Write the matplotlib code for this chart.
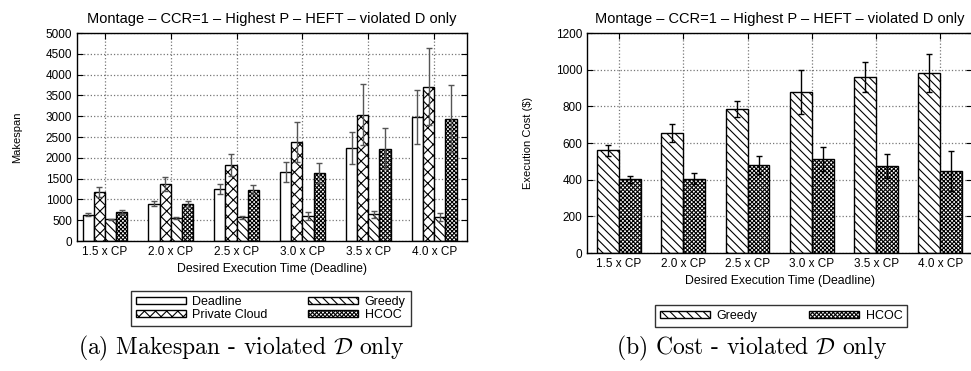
import matplotlib
matplotlib.use("Agg")
import matplotlib.pyplot as plt
import numpy as np

plt.rcParams['font.family'] = ['Liberation Sans', 'DejaVu Sans']
plt.rcParams['hatch.linewidth'] = 0.8
plt.rcParams['mathtext.fontset'] = 'cm'

# dados
deadlines = ["1.5 x CP", "2.0 x CP", "2.5 x CP", "3.0 x CP", "3.5 x CP", "4.0 x CP"]

ms_deadline = [630, 890, 1240, 1650, 2230, 2980]
ms_deadline_err = [40, 60, 120, 240, 390, 650]
ms_private = [1180, 1370, 1820, 2380, 3040, 3710]
ms_private_err = [130, 160, 260, 490, 730, 930]
ms_greedy = [520, 550, 570, 600, 640, 580]
ms_greedy_err = [15, 20, 30, 90, 90, 90]
ms_hcoc = [700, 890, 1230, 1640, 2220, 2940]
ms_hcoc_err = [40, 70, 110, 240, 490, 800]

cost_greedy = [560, 655, 785, 878, 958, 982]
cost_greedy_err = [30, 50, 45, 120, 82, 105]
cost_hcoc = [402, 405, 480, 512, 474, 448]
cost_hcoc_err = [20, 30, 50, 65, 65, 110]

title = "Montage – CCR=1 – Highest P – HEFT – violated D only"

fig = plt.figure(figsize=(9.71, 3.71), dpi=100)
ax1 = fig.add_axes([0.0793, 0.3504, 0.4017, 0.5606])
ax2 = fig.add_axes([0.6045, 0.318, 0.397, 0.593])

x = np.arange(len(deadlines))


def style_axes(ax):
    ax.set_axisbelow(True)
    ax.grid(True, linestyle=':', color='#777777', linewidth=0.9)
    ax.tick_params(direction='in', top=True, right=True, labelsize=8.5, length=4)
    for s in ax.spines.values():
        s.set_linewidth(1.0)
    ax.set_xticks(x)
    ax.set_xticklabels(deadlines)
    ax.set_title(title, fontsize=10.5, pad=7)
    ax.set_xlabel("Desired Execution Time (Deadline)", fontsize=8.8, labelpad=4)


# GRÁFICO (a) makespan
w = 0.17
ekw = dict(ecolor='#555555', elinewidth=1.0, capsize=2, capthick=1.0)
series1 = [
    (ms_deadline, ms_deadline_err, '', 'Deadline'),
    (ms_private, ms_private_err, 'xxx', 'Private Cloud'),
    (ms_greedy, ms_greedy_err, '\\\\\\\\', 'Greedy'),
    (ms_hcoc, ms_hcoc_err, 'xxxxxxxx', 'HCOC'),
]
bars1 = []
for i, (vals, errs, hatch, label) in enumerate(series1):
    b = ax1.bar(x + (i - 1.5) * w, vals, w, yerr=errs, color='white', edgecolor='black',
                linewidth=1.0, hatch=hatch, label=label, error_kw=ekw)
    bars1.append(b)
style_axes(ax1)
ax1.set_xlim(-0.425, 5.5)
ax1.set_ylim(0, 5000)
ax1.set_yticks(range(0, 5001, 500))
ax1.set_ylabel("Makespan", fontsize=8, labelpad=17)
handles = [bars1[0], bars1[1], bars1[2], bars1[3]]
fig.legend(handles, [h.get_label() for h in handles], ncol=2, loc='center',
           bbox_to_anchor=(0.2787, 0.1685), fontsize=9, frameon=True, fancybox=False,
           edgecolor='black', handlelength=4, handleheight=0.5, labelspacing=0.05,
           columnspacing=3.3, borderpad=0.4, handletextpad=0.5).get_frame().set_linewidth(1.0)

# GRÁFICO (b) custo
w2 = 0.34
ekw2 = dict(ecolor='black', elinewidth=1.0, capsize=2, capthick=1.0)
b1 = ax2.bar(x - w2 / 2, cost_greedy, w2, yerr=cost_greedy_err, color='white', edgecolor='black',
             linewidth=1.0, hatch='\\\\\\\\', label='Greedy', error_kw=ekw2)
b2 = ax2.bar(x + w2 / 2, cost_hcoc, w2, yerr=cost_hcoc_err, color='white', edgecolor='black',
             linewidth=1.0, hatch='xxxxxxxx', label='HCOC', error_kw=ekw2)
style_axes(ax2)
ax2.set_xlim(-0.5, 5.5)
ax2.set_ylim(0, 1200)
ax2.set_yticks(range(0, 1201, 200))
ax2.set_ylabel("Execution Cost ($)", fontsize=8, labelpad=16)
fig.legend([b1, b2], ['Greedy', 'HCOC'], ncol=2, loc='center',
           bbox_to_anchor=(0.8045, 0.1495), fontsize=9, frameon=True, fancybox=False,
           edgecolor='black', handlelength=4, handleheight=0.5, columnspacing=4.2,
           borderpad=0.4, handletextpad=0.5).get_frame().set_linewidth(1.0)

fig.text(0.248, 0.062, r"$\text{(a) Makespan - violated }\mathcal{D}\text{ only}$",
         ha='center', va='center', fontsize=17)
fig.text(0.774, 0.062, r"$\text{(b) Cost - violated }\mathcal{D}\text{ only}$",
         ha='center', va='center', fontsize=17)

fig.savefig("out.png", dpi=100)
